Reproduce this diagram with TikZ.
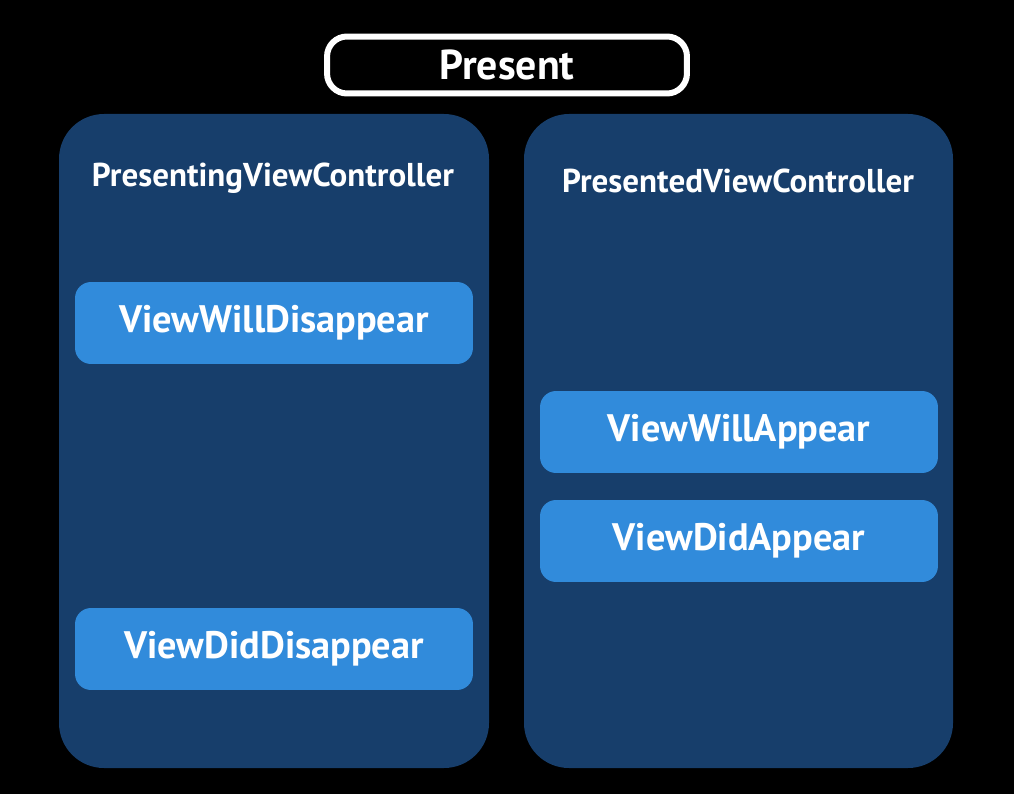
\documentclass[tikz,border=0pt]{standalone}
\usepackage{fontspec}
\setmainfont{PT Sans}
\definecolor{panelblue}{HTML}{173E6B}
\definecolor{callblue}{HTML}{318BDB}

\begin{document}
\begin{tikzpicture}[x=0.02cm,y=-0.02cm,
    panel/.style={fill=panelblue,rounded corners=0.9cm},
    call/.style={fill=callblue,rounded corners=0.32cm,minimum width=7.96cm,minimum height=1.64cm,text=white,font=\bfseries\fontsize{21.8}{25}\selectfont},
    title/.style={text=white,font=\bfseries\fontsize{18.8}{22}\selectfont}]
    \fill[black] (0,0) rectangle (1014,794);

    \node[draw=white,line width=1.2mm,rounded corners=0.4cm,minimum width=7.2cm,minimum height=1.14cm,text=white,font=\bfseries\fontsize{23.8}{27}\selectfont] (P) at (507,65) {Present};

    \fill[panel] (59,114) rectangle (489,768);
    \fill[panel] (524,114) rectangle (953,768);

    \node[title] (A) at (273,178) {PresentingViewController};
    \node[title] (B) at (738,181) {PresentedViewController};

    \node[call] (WD) at (274,323) {ViewWillDisappear};
    \node[call] (DD) at (274,649) {ViewDidDisappear};
    \node[call] (WA) at (739,432) {ViewWillAppear};
    \node[call] (DA) at (739,541) {ViewDidAppear};
\end{tikzpicture}
\end{document}
